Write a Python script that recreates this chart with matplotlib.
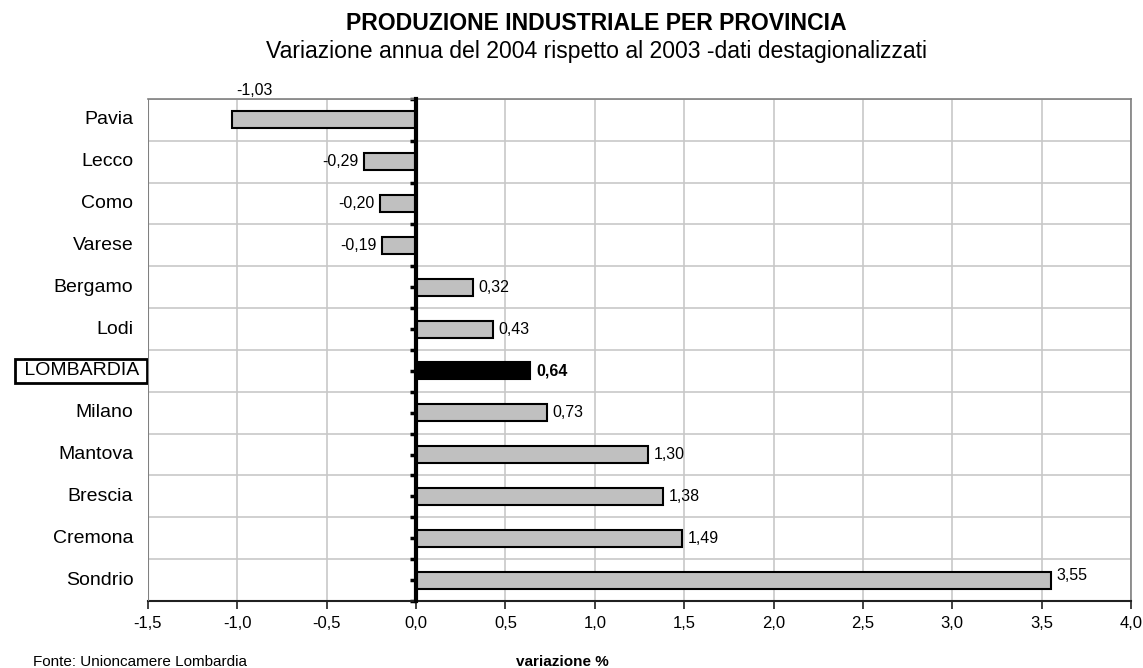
import matplotlib
matplotlib.use("Agg")
import matplotlib.pyplot as plt
from matplotlib.ticker import FuncFormatter
from matplotlib.lines import Line2D
import numpy as np

plt.rcParams['font.family'] = ['Liberation Sans', 'DejaVu Sans']

categories = ["Pavia", "Lecco", "Como", "Varese", "Bergamo", "Lodi", "LOMBARDIA",
              "Milano", "Mantova", "Brescia", "Cremona", "Sondrio"]
values = [-1.03, -0.29, -0.20, -0.19, 0.32, 0.43, 0.64, 0.73, 1.30, 1.38, 1.49, 3.55]
highlight = "LOMBARDIA"
x_ticks = [-1.5, -1.0, -0.5, 0.0, 0.5, 1.0, 1.5, 2.0, 2.5, 3.0, 3.5, 4.0]

title = "PRODUZIONE INDUSTRIALE PER PROVINCIA"
subtitle = "Variazione annua del 2004 rispetto al 2003 -dati destagionalizzati"
source = "Fonte: Unioncamere Lombardia"
xlabel = "variazione %"

fig = plt.figure(figsize=(11.43, 6.68), dpi=100)
ax = fig.add_axes([148/1143, 1-601/668, (1131-148)/1143, (601-99)/668])

ypos = np.arange(len(categories))
colors = ["black" if c == highlight else "#c0c0c0" for c in categories]
ax.barh(ypos, values, height=0.41, color=colors, edgecolor="black", linewidth=1.5, zorder=3)

ax.set_xlim(-1.5, 4.0)
ax.set_ylim(len(categories) - 0.5, -0.5)

# grid
ax.set_xticks(x_ticks)
ax.xaxis.set_major_formatter(FuncFormatter(lambda v, p: f"{v:.1f}".replace(".", ",")))
ax.set_yticks(np.arange(-0.5, len(categories), 1.0))
ax.set_yticks(ypos, minor=True)
ax.grid(axis="x", which="major", color="#c8c8c8", linewidth=1.2, zorder=0)
ax.grid(axis="y", which="major", color="#c8c8c8", linewidth=1.2, zorder=0)

# spines
ax.spines["left"].set_position(("data", 0))
ax.spines["left"].set_linewidth(3)
ax.spines["left"].set_color("black")
ax.spines["left"].set_zorder(5)
for s in ["top", "right"]:
    ax.spines[s].set_color("#808080")
    ax.spines[s].set_linewidth(1.2)
ax.spines["bottom"].set_color("#202020")
ax.spines["bottom"].set_linewidth(1.5)
ax.add_line(Line2D([0, 0], [0, 1], transform=ax.transAxes, color="#808080", linewidth=1.5, zorder=4))

ax.tick_params(axis="y", which="both", direction="out", length=4, width=2.5, color="black", labelleft=False)
ax.tick_params(axis="x", direction="out", length=6, width=1.2, color="#202020", labelsize=12, pad=5)

# category labels
for y, c in zip(ypos, categories):
    if c == highlight:
        ax.text(-0.005, y, " " + c + " ", transform=ax.get_yaxis_transform(), ha="right", va="center",
                fontsize=14,
                bbox=dict(boxstyle="square,pad=0.2", facecolor="white", edgecolor="black", linewidth=2))
    else:
        ax.text(-0.015, y, c, transform=ax.get_yaxis_transform(), ha="right", va="center",
                fontsize=14)

# value labels
for i, (y, v, c) in enumerate(zip(ypos, values, categories)):
    lab = f"{v:.2f}".replace(".", ",")
    weight = "bold" if c == highlight else "normal"
    if i == 0:
        ax.annotate(lab, xy=(v, y), xytext=(16, 21), textcoords="offset points",
                    ha="center", va="center", fontsize=11.5)
    elif v < 0:
        ax.annotate(lab, xy=(v, y), xytext=(-4, 0), textcoords="offset points",
                    ha="right", va="center", fontsize=11.5, fontweight=weight)
    elif c == "Sondrio":
        ax.annotate(lab, xy=(v, y), xytext=(4, 3), textcoords="offset points",
                    ha="left", va="center", fontsize=11.5, fontweight=weight)
    else:
        ax.annotate(lab, xy=(v, y), xytext=(4, 0), textcoords="offset points",
                    ha="left", va="center", fontsize=11.5, fontweight=weight)

fig.text(596/1143, 1-30/668, title, ha="center", va="baseline", fontsize=16.6, fontweight="bold")
fig.text(596/1143, 1-58/668, subtitle, ha="center", va="baseline", fontsize=16.6)
fig.text(33/1143, 1-666/668, source, ha="left", va="baseline", fontsize=11)
fig.text(562/1143, 1-666/668, xlabel, ha="center", va="baseline", fontsize=11, fontweight="bold")

fig.savefig("out.png", dpi=100)
